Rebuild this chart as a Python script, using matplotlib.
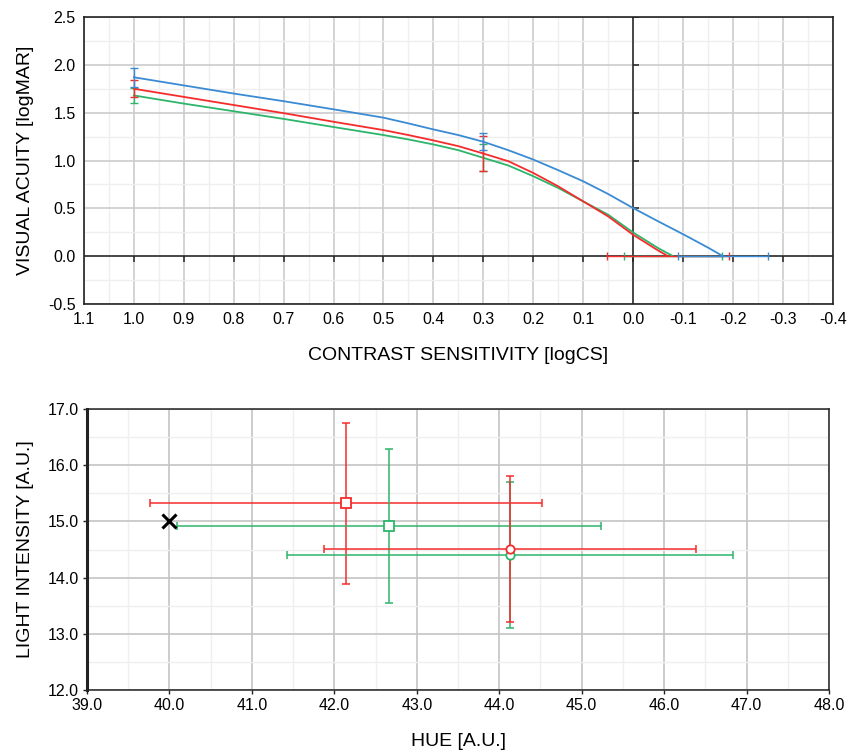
import matplotlib.pyplot as plt
from matplotlib.ticker import MultipleLocator
import numpy as np

plt.rcParams['font.family'] = ['Liberation Sans', 'DejaVu Sans']

# --- top panel: visual acuity vs contrast sensitivity
cs_blue = [1.0, 0.9, 0.8, 0.7, 0.6, 0.5, 0.45, 0.4, 0.35, 0.3, 0.25, 0.2, 0.15, 0.1, 0.05, 0.0,
           -0.05, -0.1, -0.15, -0.18]
va_blue = [1.87, 1.785, 1.70, 1.62, 1.535, 1.448, 1.388, 1.325, 1.266, 1.196, 1.108, 1.01, 0.899, 0.783,
           0.65, 0.503, 0.365, 0.23, 0.09, 0.0]
cs_red = [1.0, 0.9, 0.8, 0.7, 0.6, 0.5, 0.45, 0.4, 0.35, 0.3, 0.25, 0.2, 0.15, 0.1, 0.05, 0.0,
          -0.05, -0.07]
va_red = [1.75, 1.665, 1.58, 1.495, 1.405, 1.318, 1.266, 1.21, 1.15, 1.073, 0.993, 0.87, 0.73, 0.573,
          0.416, 0.224, 0.06, 0.0]
cs_green = [1.0, 0.9, 0.8, 0.7, 0.6, 0.5, 0.45, 0.4, 0.35, 0.3, 0.25, 0.2, 0.15, 0.1, 0.05, 0.0,
            -0.05, -0.08]
va_green = [1.68, 1.595, 1.515, 1.435, 1.35, 1.266, 1.22, 1.168, 1.108, 1.028, 0.948, 0.836, 0.713,
            0.573, 0.434, 0.248, 0.085, 0.0]

# error bars: (x, y, xerr, yerr)
err_blue = [(1.0, 1.87, 0, 0.10), (0.3, 1.196, 0, 0.09), (-0.18, 0.0, 0.09, 0)]
err_red = [(1.0, 1.75, 0, 0.09), (0.3, 1.073, 0, 0.18), (-0.07, 0.0, 0.123, 0)]
err_green = [(1.0, 1.68, 0, 0.08), (0.3, 1.028, 0, 0.14), (-0.08, 0.0, 0.098, 0)]

# --- bottom panel: light intensity vs hue
pts_hue = [42.14, 42.66, 44.13, 44.13]
pts_int = [15.32, 14.91, 14.41, 14.51]
pts_xerr = [2.38, 2.57, 2.71, 2.26]
pts_yerr = [1.44, 1.37, 1.30, 1.30]
pts_color = ['red', 'green', 'green', 'red']
pts_marker = ['s', 's', 'o', 'o']
ref_hue, ref_int = 40.0, 15.0

colors = {'blue': '#3a8bd4', 'red': '#f52c2c', 'green': '#2db56b'}

fig = plt.figure(figsize=(8.48, 7.53), dpi=100)
ax1 = fig.add_axes([0.099, 0.5963, 0.883, 0.3811])
ax2 = fig.add_axes([0.1026, 0.0837, 0.875, 0.3731])

# top panel
ax1.set_xlim(1.1, -0.4)
ax1.set_ylim(-0.5, 2.5)
ax1.xaxis.set_major_locator(MultipleLocator(0.1))
ax1.xaxis.set_minor_locator(MultipleLocator(0.05))
ax1.yaxis.set_major_locator(MultipleLocator(0.5))
ax1.yaxis.set_minor_locator(MultipleLocator(0.25))
ax1.xaxis.set_major_formatter(lambda v, p: f'{v:.1f}'.replace('-0.0', '0.0'))
ax1.yaxis.set_major_formatter(lambda v, p: f'{v:.1f}')
ax1.grid(which='major', color='#cccccc', lw=1.2)
ax1.grid(which='minor', color='#efefef', lw=1.0)
ax1.tick_params(which='both', length=0, labelsize=11.5, pad=6)
ax1.set_axisbelow(True)

# axes through the origin, with their own small ticks
ax1.axhline(0, color='#222222', lw=1.1, zorder=2)
ax1.axvline(0, color='#222222', lw=1.1, zorder=2)
xt = np.round(np.arange(1.0, -0.35, -0.1), 2)
ax1.plot(xt, np.zeros_like(xt), ls='none', marker=3, ms=4, mew=1.1, color='#222222', zorder=2)
yt = np.arange(0.5, 2.51, 0.5)
ax1.plot(np.zeros_like(yt), yt, ls='none', marker=1, ms=4, mew=1.1, color='#222222', zorder=2)

for cs, va, errs, c in [(cs_green, va_green, err_green, 'green'),
                        (cs_red, va_red, err_red, 'red'),
                        (cs_blue, va_blue, err_blue, 'blue')]:
    ax1.plot(cs, va, color=colors[c], lw=1.3, zorder=3)
    for x, y, xe, ye in errs:
        ax1.errorbar(x, y, xerr=xe if xe else None, yerr=ye if ye else None,
                     color=colors[c], lw=1.0, capsize=3, capthick=1.0, zorder=3)

for s in ax1.spines.values():
    s.set_color('#222222')
    s.set_linewidth(1.2)
ax1.set_xlabel('CONTRAST SENSITIVITY [logCS]', fontsize=14, labelpad=14)
ax1.set_ylabel('VISUAL ACUITY [logMAR]', fontsize=14, labelpad=10)

# bottom panel
ax2.set_xlim(39, 48)
ax2.set_ylim(12, 17)
ax2.xaxis.set_major_locator(MultipleLocator(1))
ax2.xaxis.set_minor_locator(MultipleLocator(0.5))
ax2.yaxis.set_major_locator(MultipleLocator(1))
ax2.yaxis.set_minor_locator(MultipleLocator(0.5))
ax2.xaxis.set_major_formatter(lambda v, p: f'{v:.1f}')
ax2.yaxis.set_major_formatter(lambda v, p: f'{v:.1f}')
ax2.grid(which='major', color='#c4c4c4', lw=1.2)
ax2.grid(which='minor', color='#efefef', lw=1.0)
ax2.tick_params(which='major', length=3, width=1, labelsize=11.5, pad=3, color='#222222')
ax2.tick_params(which='minor', length=0)
ax2.set_axisbelow(True)

for x, y, xe, ye, c in zip(pts_hue, pts_int, pts_xerr, pts_yerr, pts_color):
    ax2.errorbar(x, y, xerr=xe, yerr=ye, fmt='none', ecolor=colors[c], elinewidth=1.1,
                 capsize=3, capthick=1.1, zorder=3)
# markers on top of all bars
for x, y, c, m in zip(pts_hue, pts_int, pts_color, pts_marker):
    ax2.plot(x, y, ls='none', marker=m, ms=6.5 if m == 's' else 6, mfc='white',
             mec=colors[c], mew=1.3, zorder=4)
ax2.plot(ref_hue, ref_int, marker='x', color='black', ms=10, mew=2.2, zorder=5)

for s in ax2.spines.values():
    s.set_color('#222222')
    s.set_linewidth(1.1)
ax2.spines['left'].set_linewidth(2.2)
ax2.set_xlabel('HUE [A.U.]', fontsize=14, labelpad=14)
ax2.set_ylabel('LIGHT INTENSITY [A.U.]', fontsize=14, labelpad=10)

fig.savefig('out.png', dpi=100)
